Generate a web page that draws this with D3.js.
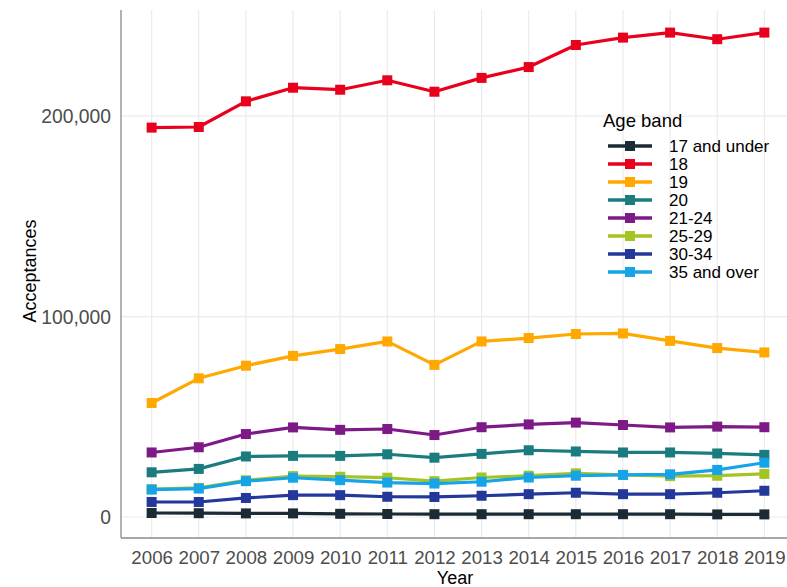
<!DOCTYPE html>
<html><head><meta charset="utf-8">
<script src="https://cdn.jsdelivr.net/npm/d3@7"></script>
<style>
body{margin:0;background:#fff;}
svg text{font-family:"Liberation Sans",Arial,sans-serif;}
</style></head>
<body><svg id="c" width="787" height="587"></svg>
<script>
const years = [2006,2007,2008,2009,2010,2011,2012,2013,2014,2015,2016,2017,2018,2019];
const bands = ["17 and under","18","19","20","21-24","25-29","30-34","35 and over"];
const colors = ["#1c2a33","#e8001d","#ffa800","#1b7c80","#7e1a87","#a4c424","#24379a","#15a4e8"];
const v17under = [2000,1900,1800,1800,1600,1500,1400,1400,1400,1400,1400,1400,1300,1300];
const v18 = [194300,194600,207400,214200,213200,217900,212200,219100,224500,235500,239200,241700,238400,241700];
const v19 = [56900,69200,75500,80400,83800,87600,75900,87600,89300,91300,91600,87900,84300,82100];
const v20 = [22300,24000,30200,30500,30500,31300,29600,31500,33300,32700,32200,32200,31700,31000];
const v21_24 = [32200,34800,41400,44700,43500,43900,40900,44800,46200,47100,45900,44700,45100,44800];
const v25_29 = [13900,14500,18300,20400,20100,19600,17900,19700,20600,21800,21000,20400,20600,21500];
const v30_34 = [7500,7500,9500,10900,10900,10100,10000,10600,11400,12100,11400,11400,12100,13100];
const v35over = [13700,14200,17900,19600,18400,17200,16700,17600,19700,20600,21000,21300,23500,27100];
const yTicks = [0,100000,200000];
const seriesVals = [v17under,v18,v19,v20,v21_24,v25_29,v30_34,v35over];

const svg = d3.select("#c");
const L = 121, R = 795, T = 10, B = 538;
const x = d3.scaleLinear().domain([2006-0.65, 2019+0.65]).range([L, R]);
const y = d3.scaleLinear().domain([-10475, 252975]).range([B, T]);

// gridlines
const g = svg.append("g");
g.selectAll("line.h").data(yTicks).join("line")
  .attr("x1", L).attr("x2", 787).attr("y1", d=>y(d)).attr("y2", d=>y(d))
  .attr("stroke", "#ebebeb").attr("stroke-width", 1.2);
g.selectAll("line.v").data(years).join("line")
  .attr("x1", d=>x(d)).attr("x2", d=>x(d)).attr("y1", T).attr("y2", B)
  .attr("stroke", "#ebebeb").attr("stroke-width", 1.2);

// axes
const xAxis = svg.append("g").attr("transform", `translate(0,${B})`)
  .call(d3.axisBottom(x).tickValues(years).tickFormat(d3.format("d")).tickSize(0).tickPadding(0));
xAxis.select(".domain").remove();
xAxis.selectAll("text").attr("dy", null).attr("y", 26).attr("font-size", 18.7).attr("fill", "#4d4d4d");
svg.append("line").attr("x1", L).attr("x2", 787).attr("y1", B).attr("y2", B).attr("stroke", "#8a8a8a").attr("stroke-width", 1.3);

const yAxis = svg.append("g").attr("transform", `translate(${L},0)`)
  .call(d3.axisLeft(y).tickValues(yTicks).tickFormat(d3.format(",")).tickSize(0).tickPadding(10));
yAxis.select(".domain").remove();
yAxis.selectAll("text").attr("font-size", 19.3).attr("fill", "#4d4d4d").attr("dy", "0.35em");
svg.append("line").attr("x1", L).attr("x2", L).attr("y1", T).attr("y2", B).attr("stroke", "#8a8a8a").attr("stroke-width", 1.3);

// axis titles
svg.append("text").attr("x", 455).attr("y", 584).attr("text-anchor", "middle")
  .attr("font-size", 18).attr("fill", "#000").text("Year");
svg.append("text").attr("transform", "translate(36,271) rotate(-90)").attr("text-anchor", "middle")
  .attr("font-size", 18).attr("fill", "#000").text("Acceptances");

// series
const line = d3.line().x((d,i)=>x(years[i])).y(d=>y(d));
seriesVals.forEach((vals, si) => {
  const sg = svg.append("g");
  sg.append("path").datum(vals).attr("d", line).attr("fill", "none")
    .attr("stroke", colors[si]).attr("stroke-width", 3.2).attr("stroke-linejoin", "round");
  sg.selectAll("rect").data(vals).join("rect")
    .attr("x", (d,i)=>x(years[i]) - 5).attr("y", d=>y(d) - 5)
    .attr("width", 10).attr("height", 10).attr("fill", colors[si]);
});

// legend
const lg = svg.append("g");
lg.append("text").attr("x", 603).attr("y", 127).attr("font-size", 18.5).attr("fill", "#000").text("Age band");
bands.forEach((b, i) => {
  const cy = 146 + i * 18;
  lg.append("line").attr("x1", 608).attr("x2", 652).attr("y1", cy).attr("y2", cy)
    .attr("stroke", colors[i]).attr("stroke-width", 3.5);
  lg.append("rect").attr("x", 625).attr("y", cy - 5).attr("width", 10).attr("height", 10).attr("fill", colors[i]);
  lg.append("text").attr("x", 669).attr("y", cy).attr("dy", "0.35em").attr("font-size", 17)
    .attr("fill", "#000").text(b);
});
</script></body></html>
